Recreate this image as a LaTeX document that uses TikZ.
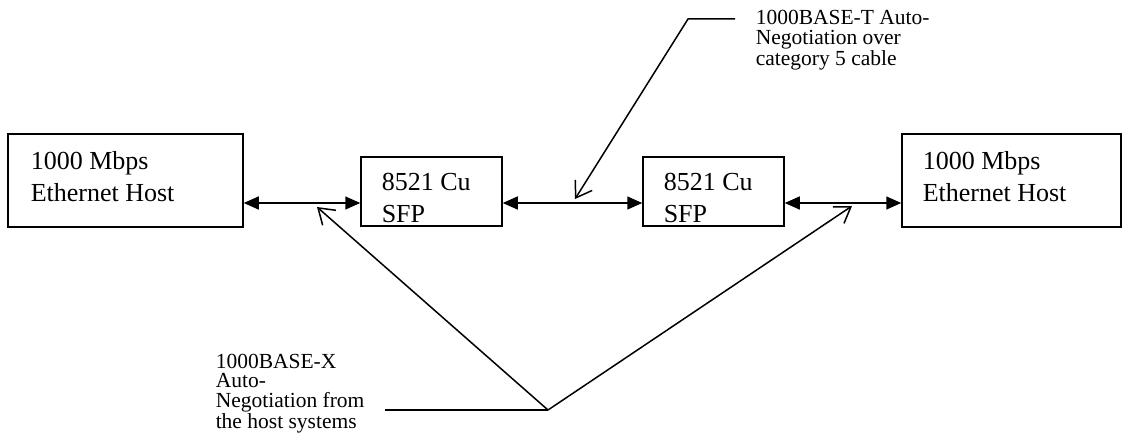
\documentclass[tikz,border=0pt]{standalone}
\usepackage{fontspec}
\setmainfont{Liberation Serif}
\usetikzlibrary{arrows.meta}

\begin{document}
\begin{tikzpicture}[x=1pt, y=-1pt, line width=1.5pt,
    unitbox/.style={draw, rectangle, inner sep=0pt},
    boxlabel/.style={anchor=base west, inner sep=0pt, align=left,
        font=\fontsize{26}{32}\selectfont},
    notelabel/.style={anchor=base west, inner sep=0pt, align=left,
        font=\fontsize{21.5}{19.5}\selectfont},
    link/.style={{Triangle[length=15pt,width=13pt]}-{Triangle[length=15pt,width=13pt]}},
    pointer/.style={-{Straight Barb[length=15pt,width=20pt]}}]
  \useasboundingbox (0,0) rectangle (1123,444);

  % boxes
  \node[unitbox, minimum width=235pt, minimum height=93pt] (hostL) at (125.5,180.5) {};
  \node[unitbox, minimum width=141pt, minimum height=69pt] (sfpL) at (431.5,191.5) {};
  \node[unitbox, minimum width=141pt, minimum height=69pt] (sfpR) at (713.5,191.5) {};
  \node[unitbox, minimum width=219pt, minimum height=93pt] (hostR) at (1011.5,180.5) {};

  % labels sit on the baseline of their last line
  \node[boxlabel] (hostLtext) at (30,201) {1000 Mbps\\Ethernet Host};
  \node[boxlabel] (sfpLtext) at (381,222) {8521 Cu\\SFP};
  \node[boxlabel] (sfpRtext) at (663,222) {8521 Cu\\SFP};
  \node[boxlabel] (hostRtext) at (922,201) {1000 Mbps\\Ethernet Host};

  % links
  \coordinate (linkrow) at (0,203);
  \draw[link] (hostL.east |- linkrow) -- (sfpL.west |- linkrow);
  \draw[link] (sfpL.east |- linkrow) -- (sfpR.west |- linkrow);
  \draw[link] (sfpR.east |- linkrow) -- (hostR.west |- linkrow);

  % notes
  \node[notelabel] (cablenote) at (755,65) {1000BASE-T Auto-\\Negotiation over\\category 5 cable};
  \coordinate (cablestub) at (735,19);
  \coordinate (cableknee) at (688,19);
  \coordinate (cabletip) at (575,199);
  \draw[pointer] (cablestub) -- (cableknee) -- (cabletip);

  \node[notelabel] (hostnote) at (215,428) {1000BASE-X\\Auto-\\Negotiation from\\the host systems};
  \coordinate (hoststub) at (385,410);
  \coordinate (hostknee) at (548,410);
  \coordinate (hosttipL) at (317,207);
  \coordinate (hosttipR) at (852,206);
  \draw (hoststub) -- (hostknee);
  \draw[pointer] (hostknee) -- (hosttipL);
  \draw[pointer] (hostknee) -- (hosttipR);
\end{tikzpicture}
\end{document}
